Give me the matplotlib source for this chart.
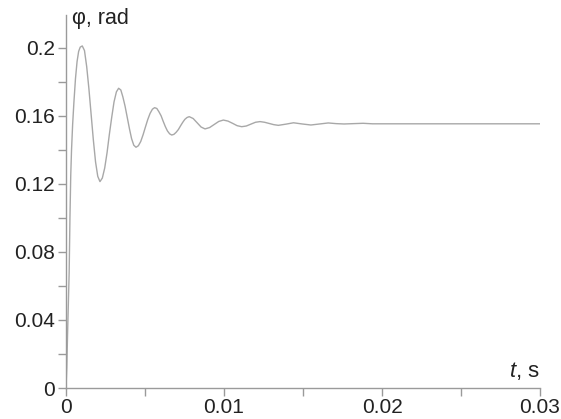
import matplotlib
matplotlib.use("Agg")
import matplotlib.pyplot as plt
from matplotlib.ticker import MultipleLocator, FixedLocator

plt.rcParams["mathtext.fontset"] = "custom"
plt.rcParams["mathtext.it"] = "Liberation Sans:italic"
plt.rcParams["mathtext.rm"] = "Liberation Sans"

# Time (s) and angle (rad)
t = [0.0, 0.00005, 0.0001, 0.00015, 0.0002, 0.00025, 0.0003, 0.00035,
     0.00042, 0.0005, 0.0006, 0.0007, 0.0008, 0.0009, 0.00103,
     0.00117, 0.00131, 0.00145, 0.00159, 0.00173, 0.00187, 0.00201, 0.00215,
     0.0023, 0.00245, 0.0026, 0.00274, 0.00289, 0.00304, 0.00319, 0.00333,
     0.00347, 0.0036, 0.00374, 0.00388, 0.00402, 0.00415, 0.00429, 0.00443,
     0.00458, 0.00473, 0.00488, 0.00502, 0.00517, 0.00532, 0.00547, 0.00561,
     0.00575, 0.00588, 0.00602, 0.00615, 0.00629, 0.00642, 0.00656, 0.00669,
     0.00683, 0.00697, 0.00711, 0.00725, 0.00739, 0.00752, 0.00766, 0.0078,
     0.00805, 0.0083, 0.00855, 0.0088,
     0.00909, 0.00938, 0.00967, 0.00996,
     0.01025, 0.01054, 0.01083, 0.01112,
     0.01141, 0.0117, 0.01199, 0.01228,
     0.01257, 0.01286, 0.01315, 0.01344,
     0.01392, 0.0144, 0.01495, 0.0155, 0.01605, 0.0166,
     0.0171, 0.0176, 0.0182, 0.0188, 0.0194, 0.0210, 0.0250, 0.0300]
phi = [0.0, 0.012, 0.032, 0.05, 0.068, 0.1, 0.125, 0.14,
       0.155, 0.168, 0.182, 0.192, 0.198, 0.2005, 0.2012,
       0.1985, 0.189, 0.176, 0.161, 0.146, 0.133, 0.1245, 0.1214,
       0.1235, 0.1294, 0.1385, 0.1489, 0.159, 0.1683, 0.1742, 0.1763,
       0.1753, 0.1712, 0.1657, 0.159, 0.1523, 0.1467, 0.1428, 0.1416,
       0.1425, 0.145, 0.149, 0.1533, 0.1578, 0.1615, 0.164, 0.1649,
       0.1644, 0.1625, 0.1601, 0.1569, 0.1537, 0.1512, 0.1495, 0.1488,
       0.1492, 0.1504, 0.152, 0.1542, 0.1563, 0.158, 0.1591, 0.1596,
       0.1585, 0.156, 0.1535, 0.1524,
       0.1532, 0.155, 0.1568, 0.1576,
       0.157, 0.1557, 0.1543, 0.1537,
       0.1541, 0.1552, 0.1563, 0.1567,
       0.1563, 0.1556, 0.1549, 0.1545,
       0.1552, 0.156, 0.1553, 0.1547, 0.1553, 0.1559,
       0.1555, 0.1553, 0.1555, 0.1557, 0.1554, 0.1554, 0.1554, 0.1554]

x_major = [0, 0.01, 0.02, 0.03]
x_labels = ["0", "0.01", "0.02", "0.03"]
y_major = [0, 0.04, 0.08, 0.12, 0.16, 0.2]
y_labels = ["0", "0.04", "0.08", "0.12", "0.16", "0.2"]

axis_col = "#9a9a9a"
text_col = "#222222"

fig = plt.figure(figsize=(5.61, 4.19), dpi=100)
ax = fig.add_axes([66/561, 31/419, 474/561, 373/419])
ax.plot(t, phi, color="#a8a8a8", lw=1.0)

ax.set_xlim(0, 0.03)
ax.set_ylim(0, 0.2194)
for s in ("top", "right"):
    ax.spines[s].set_visible(False)
for s in ("left", "bottom"):
    ax.spines[s].set_color(axis_col)
    ax.spines[s].set_linewidth(1.0)

ax.xaxis.set_major_locator(FixedLocator(x_major))
ax.set_xticklabels(x_labels)
ax.yaxis.set_major_locator(FixedLocator(y_major))
ax.set_yticklabels(y_labels)
ax.xaxis.set_minor_locator(MultipleLocator(0.005))
ax.yaxis.set_minor_locator(MultipleLocator(0.02))
ax.tick_params(which="both", direction="out", color=axis_col, width=1.0,
               length=6, labelsize=15, labelcolor=text_col,
               labelfontfamily="Liberation Sans")
ax.tick_params(axis="y", which="both", pad=2)
ax.tick_params(axis="x", which="both", pad=1)

ax.text(0.0004, 0.2172, "φ, rad", fontsize=15.5, color=text_col,
        family=["Liberation Sans", "DejaVu Sans"], va="center", ha="left")
ax.text(0.03, 0.0035, r"$\mathit{t}$, s", fontsize=16, color=text_col,
        family=["Liberation Sans", "DejaVu Sans"], va="bottom", ha="right")

fig.savefig("out.png", dpi=100)
